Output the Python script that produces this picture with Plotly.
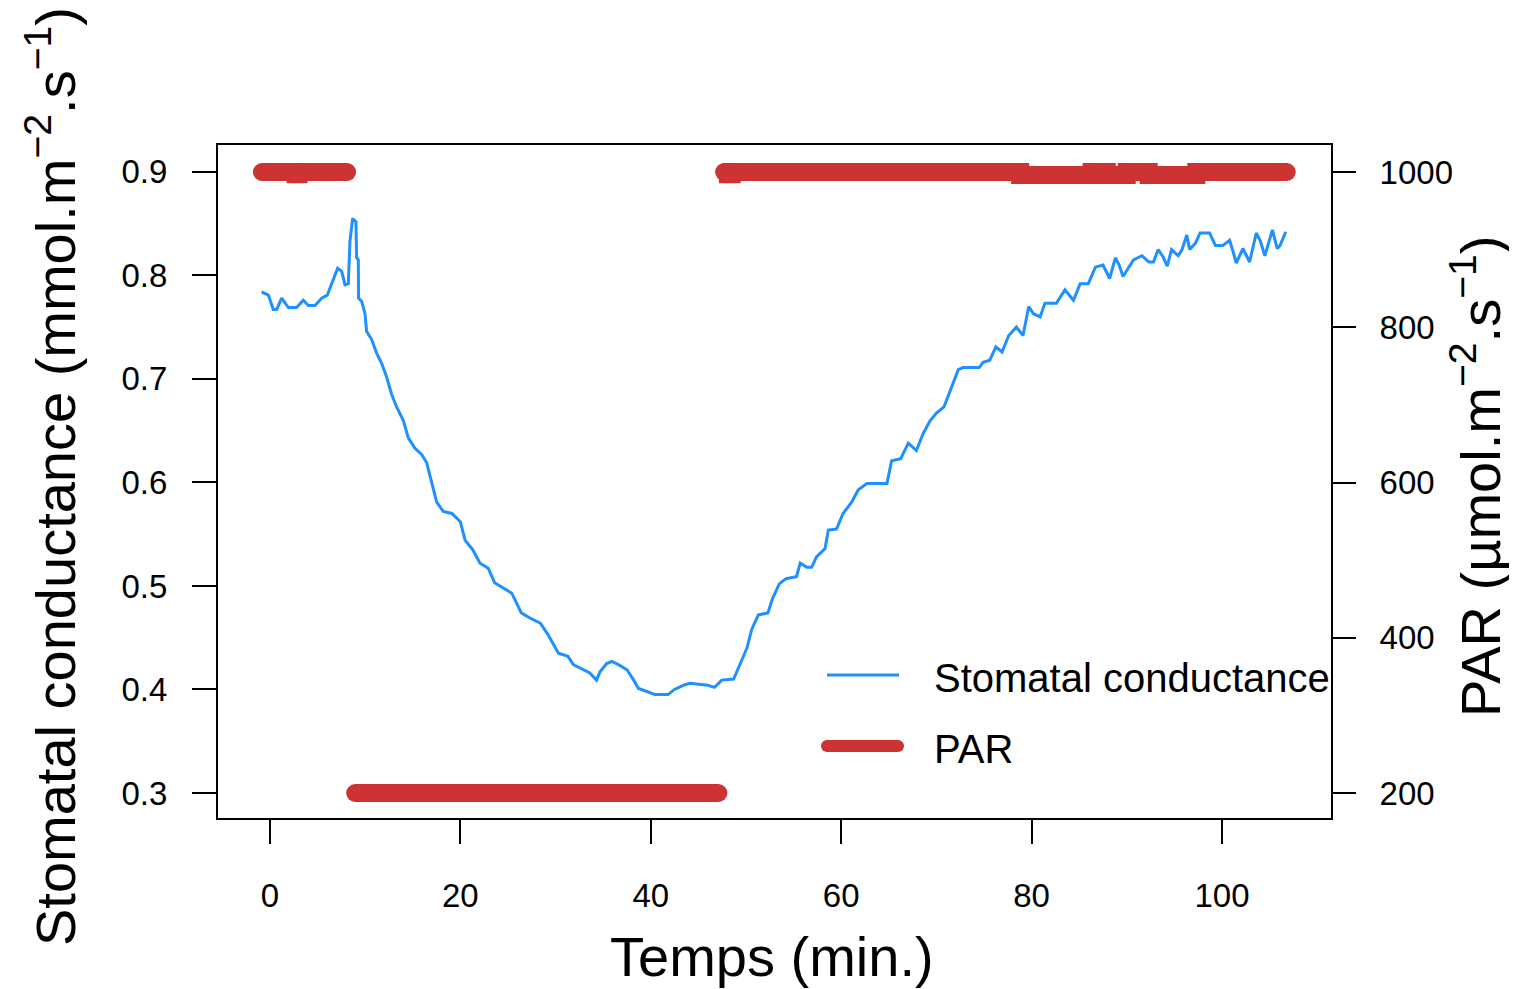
import plotly.graph_objects as go

# ---------------- data ----------------
time_min = [-0.88, -0.17, 0.35, 0.70, 1.23, 1.93, 2.80, 3.50, 4.03, 4.73, 5.43, 6.02, 6.48, 7.11,
            7.53, 7.88, 8.23, 8.40, 8.68, 9.03, 9.10, 9.28, 9.30, 9.63, 9.98, 10.15, 10.68, 11.20,
            11.73, 12.25, 12.78, 13.30, 14.00, 14.53, 15.23, 15.93, 16.46, 16.98, 17.51, 18.20,
            19.10, 20.00, 20.50, 21.30, 22.06, 22.93, 23.60, 24.50, 25.40, 26.40, 27.30, 28.40,
            29.20, 30.30, 31.30, 31.86, 32.74, 33.60, 34.30, 34.66, 35.37, 35.90, 36.60, 37.50,
            38.20, 38.70, 39.60, 40.44, 41.80, 42.50, 43.40, 44.10, 46.00, 46.70, 47.45, 48.70,
            49.45, 50.10, 50.60, 51.30, 52.30, 52.80, 53.50, 54.20, 55.30, 55.70, 56.40, 56.90,
            57.40, 58.30, 58.65, 59.50, 60.20, 61.10, 61.80, 62.70, 64.80, 65.30, 66.25, 67.05,
            67.90, 68.60, 69.30, 70.00, 70.80, 71.40, 71.95, 72.30, 72.80, 74.50, 74.90, 75.60,
            76.25, 76.90, 77.60, 78.40, 79.10, 79.70, 80.20, 80.90, 81.40, 82.60, 83.50, 84.40,
            85.10, 85.96, 86.70, 87.50, 88.20, 88.80, 89.20, 89.60, 90.70, 91.60, 92.30, 92.80,
            93.30, 93.80, 94.25, 94.70, 95.40, 95.80, 96.30, 96.60, 97.20, 97.70, 98.70, 99.30,
            100.10, 100.80, 101.10, 101.50, 102.20, 102.90, 103.60, 104.00, 104.50, 105.30,
            105.80, 106.10, 106.70]
conductance = [0.784, 0.781, 0.767, 0.767, 0.778, 0.769, 0.769, 0.776, 0.771, 0.771, 0.778, 0.781,
               0.792, 0.807, 0.804, 0.791, 0.792, 0.833, 0.855, 0.852, 0.817, 0.815, 0.778, 0.775,
               0.763, 0.746, 0.738, 0.725, 0.715, 0.702, 0.685, 0.673, 0.660, 0.643, 0.633, 0.627,
               0.619, 0.599, 0.581, 0.572, 0.570, 0.562, 0.544, 0.535, 0.522, 0.517, 0.503, 0.498,
               0.493, 0.474, 0.469, 0.464, 0.453, 0.435, 0.432, 0.424, 0.420, 0.416, 0.409, 0.417,
               0.425, 0.427, 0.424, 0.419, 0.409, 0.401, 0.398, 0.395, 0.395, 0.400, 0.404, 0.406,
               0.404, 0.402, 0.409, 0.410, 0.426, 0.440, 0.458, 0.472, 0.474, 0.488, 0.502, 0.507,
               0.509, 0.522, 0.518, 0.518, 0.528, 0.536, 0.554, 0.555, 0.570, 0.581, 0.593, 0.599,
               0.599, 0.621, 0.623, 0.638, 0.631, 0.647, 0.659, 0.667, 0.673, 0.687, 0.700, 0.709,
               0.711, 0.711, 0.716, 0.718, 0.731, 0.726, 0.742, 0.750, 0.742, 0.770, 0.763, 0.760,
               0.773, 0.773, 0.786, 0.776, 0.792, 0.792, 0.808, 0.810, 0.797, 0.817, 0.810, 0.799,
               0.815, 0.819, 0.813, 0.813, 0.825, 0.818, 0.809, 0.825, 0.819, 0.825, 0.839, 0.825,
               0.831, 0.841, 0.841, 0.829, 0.829, 0.834, 0.825, 0.812, 0.826, 0.813, 0.841, 0.834,
               0.819, 0.844, 0.826, 0.829, 0.842]

par_time = [-0.85, 2.7, 3.0, 8.1, None, 8.95, 47.1, None,
            47.7, 48.1, 48.5, 78.8, 86.3, 87.9, 90.0, 92.3, 97.3, 106.8]
par_value = [1000, 997, 1000, 1000, None, 200, 200, None,
             1000, 997, 1000, 996, 1000, 996, 1000, 996, 1000, 1000]

x_ticks = [0, 20, 40, 60, 80, 100]
y_ticks = [0.3, 0.4, 0.5, 0.6, 0.7, 0.8, 0.9]
y_ticklabels = ["0.3", "0.4", "0.5", "0.6", "0.7", "0.8", "0.9"]
y2_ticks = [200, 400, 600, 800, 1000]

# ---------------- styling ----------------
# the page body has an 8px margin, so the figure is drawn 8px smaller
OFF = 8
PAGE_W, PAGE_H = 1517, 989
W, H = PAGE_W - OFF, PAGE_H - OFF
L, R, T, B = 218, 1331, 145, 818          # plot box in page pixels
FONT = "Liberation Sans, Arial, sans-serif"
BLUE = "#1E90FF"
RED = "#CD3333"


def px(xp):
    return (xp - L) / (R - L)


def py(yp):
    return (B - yp) / (B - T)


fig = go.Figure()
fig.add_trace(go.Scatter(x=time_min, y=conductance, mode="lines",
                         line=dict(color=BLUE, width=3), name="Stomatal conductance",
                         yaxis="y"))
fig.add_trace(go.Scatter(x=par_time, y=par_value, mode="lines+markers",
                         line=dict(color=RED, width=18, shape="hv"),
                         marker=dict(color=RED, size=18, line=dict(width=0)),
                         connectgaps=False, name="PAR", yaxis="y2"))

axis_common = dict(showgrid=False, zeroline=False, ticks="outside", ticklen=24,
                   tickwidth=2, tickcolor="black", linecolor="black", linewidth=2,
                   tickfont=dict(family=FONT, size=33, color="black"))

fig.update_layout(
    width=W, height=H,
    margin=dict(l=L - OFF, r=PAGE_W - R, t=T - OFF, b=PAGE_H - B, pad=0),
    paper_bgcolor="white", plot_bgcolor="white",
    showlegend=False,
    xaxis=dict(range=[-5.46, 111.45], tickvals=x_ticks, showline=True, mirror=True,
               ticklabelstandoff=23, **axis_common),
    yaxis=dict(range=[0.2758, 0.926], tickvals=y_ticks, ticktext=y_ticklabels,
               showline=True, mirror=True, ticklabelstandoff=18, **axis_common),
    yaxis2=dict(range=[167.8, 1034.8], tickvals=y2_ticks, overlaying="y", side="right",
                showline=False, ticklabelstandoff=17, **axis_common),
)

title_font = dict(family=FONT, size=56, color="black")
fig.add_annotation(text="Temps (min.)", xref="paper", yref="paper",
                   x=px(772), y=py(956), xanchor="center", yanchor="middle",
                   showarrow=False, font=title_font)
fig.add_annotation(text="Stomatal conductance (mmol.m<sup>\u22122</sup>.s<sup>\u22121</sup>)",
                   xref="paper", yref="paper", x=px(51), y=py(477), textangle=-90,
                   xanchor="center", yanchor="middle", showarrow=False, font=title_font)
fig.add_annotation(text="PAR (\u00b5mol.m<sup>\u22122</sup>.s<sup>\u22121</sup>)",
                   xref="paper", yref="paper", x=px(1476), y=py(476), textangle=-90,
                   xanchor="center", yanchor="middle", showarrow=False, font=title_font)

# ---------------- legend (drawn by hand, no box) ----------------
leg_font = dict(family=FONT, size=40, color="black")
fig.add_shape(type="line", xref="paper", yref="paper", x0=px(827), x1=px(899),
              y0=py(675), y1=py(675), line=dict(color=BLUE, width=3))
fig.add_shape(type="line", xref="paper", yref="paper", x0=px(827), x1=px(898),
              y0=py(746), y1=py(746), line=dict(color=RED, width=12))
for cx in (827, 898):
    fig.add_shape(type="circle", xref="paper", yref="paper",
                  x0=px(cx - 6), x1=px(cx + 6), y0=py(746 + 6), y1=py(746 - 6),
                  line=dict(width=0), fillcolor=RED)
fig.add_annotation(text="Stomatal conductance", xref="paper", yref="paper",
                   x=px(932), y=py(678), xanchor="left", yanchor="middle",
                   showarrow=False, font=leg_font)
fig.add_annotation(text="PAR", xref="paper", yref="paper",
                   x=px(932), y=py(749), xanchor="left", yanchor="middle",
                   showarrow=False, font=leg_font)

fig.write_html("out.html")
